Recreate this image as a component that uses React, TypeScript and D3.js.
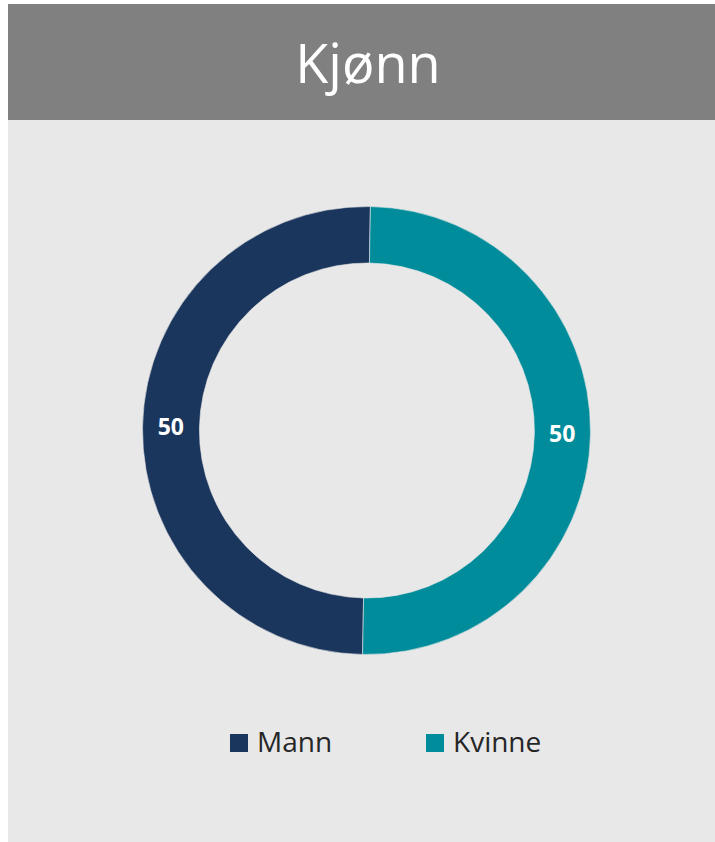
import React from "react";
import * as d3 from "d3";

const categories = ["Mann", "Kvinne"];
const values = [50, 50];
const labels = ["50", "50"];
const colors = ["#1b365d", "#008c9a"];
const title = "Kjønn";

const W = 715;
const H = 842;
const cx = 366.5;
const cy = 430.5;
const outerR = 224;
const innerR = 167.5;
const rotation = (181 * Math.PI) / 180;

export default function App() {
  const pie = d3
    .pie<number>()
    .sort(null)
    .startAngle(rotation)
    .endAngle(rotation + 2 * Math.PI)(values);
  const arc = d3.arc<d3.PieArcDatum<number>>().innerRadius(innerR).outerRadius(outerR);
  const labelArc = d3
    .arc<d3.PieArcDatum<number>>()
    .innerRadius((innerR + outerR) / 2)
    .outerRadius((innerR + outerR) / 2);
  const font = "'Open Sans', 'Noto Sans', sans-serif";

  const legendX = [230, 426];
  return (
    <svg
      width={W}
      height={H}
      style={{ position: "absolute", left: 0, top: 0, background: "#ffffff" }}
    >
      <rect x={8} y={4} width={W - 8} height={116} fill="#808080" />
      <rect x={8} y={120} width={W - 8} height={H - 120} fill="#e8e8e8" />
      <text
        x={368}
        y={83}
        textAnchor="middle"
        fill="#ffffff"
        fontFamily={font}
        fontSize={54}
      >
        {title}
      </text>
      <g transform={`translate(${cx},${cy})`}>
        {pie.map((d, i) => (
          <path key={i} d={arc(d) || ""} fill={colors[i]} stroke="#e8e8e8" strokeWidth={0.6} />
        ))}
        {pie.map((d, i) => {
          const [x, y] = labelArc.centroid(d);
          return (
            <text
              key={"l" + i}
              x={x}
              y={y}
              dy="0.35em"
              textAnchor="middle"
              fill="#ffffff"
              fontFamily={font}
              fontWeight="bold"
              fontSize={23}
            >
              {labels[i]}
            </text>
          );
        })}
      </g>
      {categories.map((c, i) => (
        <g key={c}>
          <rect x={legendX[i]} y={734} width={18} height={18} fill={colors[i]} />
          <text
            x={legendX[i] + 27}
            y={752}
            fill="#262626"
            fontFamily={font}
            fontSize={28}
          >
            {c}
          </text>
        </g>
      ))}
    </svg>
  );
}
